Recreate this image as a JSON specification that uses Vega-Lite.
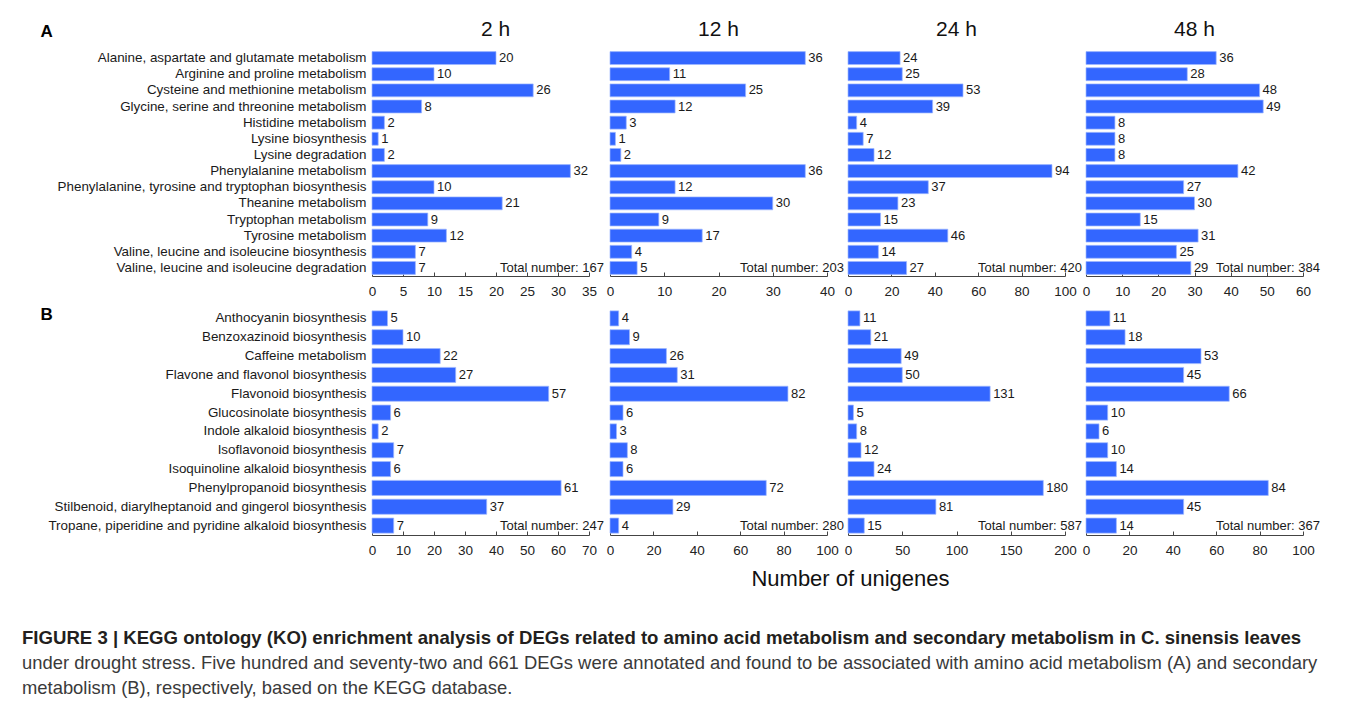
{
  "$schema": "https://vega.github.io/schema/vega-lite/v6.json",
  "padding": {"left": 22, "top": 19, "right": 10, "bottom": 5},
  "background": "white",
  "datasets": {
    "A": [
      {"pathway": "Alanine, aspartate and glutamate metabolism", "h2": 20, "h12": 36, "h24": 24, "h48": 36},
      {"pathway": "Arginine and proline metabolism", "h2": 10, "h12": 11, "h24": 25, "h48": 28},
      {"pathway": "Cysteine and methionine metabolism", "h2": 26, "h12": 25, "h24": 53, "h48": 48},
      {"pathway": "Glycine, serine and threonine metabolism", "h2": 8, "h12": 12, "h24": 39, "h48": 49},
      {"pathway": "Histidine metabolism", "h2": 2, "h12": 3, "h24": 4, "h48": 8},
      {"pathway": "Lysine biosynthesis", "h2": 1, "h12": 1, "h24": 7, "h48": 8},
      {"pathway": "Lysine degradation", "h2": 2, "h12": 2, "h24": 12, "h48": 8},
      {"pathway": "Phenylalanine metabolism", "h2": 32, "h12": 36, "h24": 94, "h48": 42},
      {"pathway": "Phenylalanine, tyrosine and tryptophan biosynthesis", "h2": 10, "h12": 12, "h24": 37, "h48": 27},
      {"pathway": "Theanine metabolism", "h2": 21, "h12": 30, "h24": 23, "h48": 30},
      {"pathway": "Tryptophan metabolism", "h2": 9, "h12": 9, "h24": 15, "h48": 15},
      {"pathway": "Tyrosine metabolism", "h2": 12, "h12": 17, "h24": 46, "h48": 31},
      {"pathway": "Valine, leucine and isoleucine biosynthesis", "h2": 7, "h12": 4, "h24": 14, "h48": 25},
      {"pathway": "Valine, leucine and isoleucine degradation", "h2": 7, "h12": 5, "h24": 27, "h48": 29}
    ],
    "B": [
      {"pathway": "Anthocyanin biosynthesis", "h2": 5, "h12": 4, "h24": 11, "h48": 11},
      {"pathway": "Benzoxazinoid biosynthesis", "h2": 10, "h12": 9, "h24": 21, "h48": 18},
      {"pathway": "Caffeine metabolism", "h2": 22, "h12": 26, "h24": 49, "h48": 53},
      {"pathway": "Flavone and flavonol biosynthesis", "h2": 27, "h12": 31, "h24": 50, "h48": 45},
      {"pathway": "Flavonoid biosynthesis", "h2": 57, "h12": 82, "h24": 131, "h48": 66},
      {"pathway": "Glucosinolate biosynthesis", "h2": 6, "h12": 6, "h24": 5, "h48": 10},
      {"pathway": "Indole alkaloid biosynthesis", "h2": 2, "h12": 3, "h24": 8, "h48": 6},
      {"pathway": "Isoflavonoid biosynthesis", "h2": 7, "h12": 8, "h24": 12, "h48": 10},
      {"pathway": "Isoquinoline alkaloid biosynthesis", "h2": 6, "h12": 6, "h24": 24, "h48": 14},
      {"pathway": "Phenylpropanoid biosynthesis", "h2": 61, "h12": 72, "h24": 180, "h48": 84},
      {"pathway": "Stilbenoid, diarylheptanoid and gingerol biosynthesis", "h2": 37, "h12": 29, "h24": 81, "h48": 45},
      {"pathway": "Tropane, piperidine and pyridine alkaloid biosynthesis", "h2": 7, "h12": 4, "h24": 15, "h48": 14}
    ],
    "totals": [
      {"panel": "A", "time": "h2", "total": 167},
      {"panel": "A", "time": "h12", "total": 203},
      {"panel": "A", "time": "h24", "total": 420},
      {"panel": "A", "time": "h48", "total": 384},
      {"panel": "B", "time": "h2", "total": 247},
      {"panel": "B", "time": "h12", "total": 280},
      {"panel": "B", "time": "h24", "total": 587},
      {"panel": "B", "time": "h48", "total": 367}
    ]
  },
  "title": {
    "text": "FIGURE 3 | KEGG ontology (KO) enrichment analysis of DEGs related to amino acid metabolism and secondary metabolism in C. sinensis leaves",
    "subtitle": ["under drought stress. Five hundred and seventy-two and 661 DEGs were annotated and found to be associated with amino acid metabolism (A) and secondary", "metabolism (B), respectively, based on the KEGG database."],
    "orient": "bottom",
    "anchor": "start",
    "frame": "bounds",
    "dx": -18,
    "offset": 40,
    "fontSize": 18.6,
    "fontWeight": "bold",
    "color": "#231f20",
    "subtitleFontSize": 18.4,
    "subtitleFontWeight": "normal",
    "subtitleColor": "#3a3a3a",
    "subtitleLineHeight": 25,
    "subtitlePadding": 6
  },
  "spacing": 7,
  "vconcat": [
    {
      "bounds": "flush",
      "spacing": 21,
      "resolve": {"scale": {"x": "independent", "y": "independent"}},
      "hconcat": [
        {
          "width": 217, "height": 226,
          "title": {"text": "2 h", "dx": 15, "dy": 28},
          "data": {"name": "A"},
          "encoding": {
            "y": {"field": "pathway", "type": "nominal", "sort": null, "scale": {"paddingInner": 0.2, "paddingOuter": 0.1},
              "axis": {"title": "A", "titleX": -332, "titleY": -19, "titleAngle": 0, "titleAlign": "left", "titleBaseline": "middle", "titleFontSize": 17, "titleFontWeight": "bold", "titleColor": "#000000"}},
            "x": {"field": "h2", "type": "quantitative", "scale": {"domain": [0, 35], "nice": false}, "axis": {"values": [0, 5, 10, 15, 20, 25, 30, 35], "labelOverlap": false}}
          },
          "layer": [
            {"mark": "bar"},
            {"mark": {"type": "text", "align": "left", "dx": 3, "baseline": "middle"}, "encoding": {"text": {"field": "h2"}}},
            {"data": {"name": "totals"}, "transform": [{"filter": "datum.panel === 'A' && datum.time === 'h2'"}, {"calculate": "'Total number: ' + datum.total", "as": "lbl"}],
             "mark": {"type": "text", "align": "right", "baseline": "middle", "dx": 15, "dy": -8}, "encoding": {"x": {"value": "width"}, "y": {"value": "height"}, "text": {"field": "lbl"}}}
          ]
        },
        {
          "width": 217, "height": 226,
          "title": {"text": "12 h"},
          "data": {"name": "A"},
          "encoding": {
            "y": {"field": "pathway", "type": "nominal", "sort": null, "scale": {"paddingInner": 0.2, "paddingOuter": 0.1}, "axis": null},
            "x": {"field": "h12", "type": "quantitative", "scale": {"domain": [0, 40], "nice": false}, "axis": {"values": [0, 10, 20, 30, 40], "labelOverlap": false}}
          },
          "layer": [
            {"mark": "bar"},
            {"mark": {"type": "text", "align": "left", "dx": 3, "baseline": "middle"}, "encoding": {"text": {"field": "h12"}}},
            {"data": {"name": "totals"}, "transform": [{"filter": "datum.panel === 'A' && datum.time === 'h12'"}, {"calculate": "'Total number: ' + datum.total", "as": "lbl"}],
             "mark": {"type": "text", "align": "right", "baseline": "middle", "dx": 17, "dy": -8}, "encoding": {"x": {"value": "width"}, "y": {"value": "height"}, "text": {"field": "lbl"}}}
          ]
        },
        {
          "width": 217, "height": 226,
          "title": {"text": "24 h"},
          "data": {"name": "A"},
          "encoding": {
            "y": {"field": "pathway", "type": "nominal", "sort": null, "scale": {"paddingInner": 0.2, "paddingOuter": 0.1}, "axis": null},
            "x": {"field": "h24", "type": "quantitative", "scale": {"domain": [0, 100], "nice": false}, "axis": {"values": [0, 20, 40, 60, 80, 100], "labelOverlap": false}}
          },
          "layer": [
            {"mark": "bar"},
            {"mark": {"type": "text", "align": "left", "dx": 3, "baseline": "middle"}, "encoding": {"text": {"field": "h24"}}},
            {"data": {"name": "totals"}, "transform": [{"filter": "datum.panel === 'A' && datum.time === 'h24'"}, {"calculate": "'Total number: ' + datum.total", "as": "lbl"}],
             "mark": {"type": "text", "align": "right", "baseline": "middle", "dx": 17, "dy": -8}, "encoding": {"x": {"value": "width"}, "y": {"value": "height"}, "text": {"field": "lbl"}}}
          ]
        },
        {
          "width": 217, "height": 226,
          "title": {"text": "48 h"},
          "data": {"name": "A"},
          "encoding": {
            "y": {"field": "pathway", "type": "nominal", "sort": null, "scale": {"paddingInner": 0.2, "paddingOuter": 0.1}, "axis": null},
            "x": {"field": "h48", "type": "quantitative", "scale": {"domain": [0, 60], "nice": false}, "axis": {"values": [0, 10, 20, 30, 40, 50, 60], "labelOverlap": false}}
          },
          "layer": [
            {"mark": "bar"},
            {"mark": {"type": "text", "align": "left", "dx": 3, "baseline": "middle"}, "encoding": {"text": {"field": "h48"}}},
            {"data": {"name": "totals"}, "transform": [{"filter": "datum.panel === 'A' && datum.time === 'h48'"}, {"calculate": "'Total number: ' + datum.total", "as": "lbl"}],
             "mark": {"type": "text", "align": "right", "baseline": "middle", "dx": 17, "dy": -8}, "encoding": {"x": {"value": "width"}, "y": {"value": "height"}, "text": {"field": "lbl"}}}
          ]
        }
      ]
    },
    {
      "bounds": "flush",
      "spacing": 21,
      "resolve": {"scale": {"x": "independent", "y": "independent"}},
      "hconcat": [
        {
          "width": 217, "height": 226,
          "data": {"name": "B"},
          "encoding": {
            "y": {"field": "pathway", "type": "nominal", "sort": null, "scale": {"paddingInner": 0.2, "paddingOuter": 0.1},
              "axis": {"title": "B", "titleX": -332, "titleY": 5, "titleAngle": 0, "titleAlign": "left", "titleBaseline": "middle", "titleFontSize": 17, "titleFontWeight": "bold", "titleColor": "#000000"}},
            "x": {"field": "h2", "type": "quantitative", "scale": {"domain": [0, 70], "nice": false}, "axis": {"values": [0, 10, 20, 30, 40, 50, 60, 70], "labelOverlap": false}}
          },
          "layer": [
            {"mark": "bar"},
            {"mark": {"type": "text", "align": "left", "dx": 3, "baseline": "middle"}, "encoding": {"text": {"field": "h2"}}},
            {"data": {"name": "totals"}, "transform": [{"filter": "datum.panel === 'B' && datum.time === 'h2'"}, {"calculate": "'Total number: ' + datum.total", "as": "lbl"}],
             "mark": {"type": "text", "align": "right", "baseline": "middle", "dx": 15, "dy": -9}, "encoding": {"x": {"value": "width"}, "y": {"value": "height"}, "text": {"field": "lbl"}}}
          ]
        },
        {
          "width": 217, "height": 226,
          "data": {"name": "B"},
          "encoding": {
            "y": {"field": "pathway", "type": "nominal", "sort": null, "scale": {"paddingInner": 0.2, "paddingOuter": 0.1}, "axis": null},
            "x": {"field": "h12", "type": "quantitative", "scale": {"domain": [0, 100], "nice": false}, "axis": {"values": [0, 20, 40, 60, 80, 100], "labelOverlap": false}}
          },
          "layer": [
            {"mark": "bar"},
            {"mark": {"type": "text", "align": "left", "dx": 3, "baseline": "middle"}, "encoding": {"text": {"field": "h12"}}},
            {"data": {"name": "totals"}, "transform": [{"filter": "datum.panel === 'B' && datum.time === 'h12'"}, {"calculate": "'Total number: ' + datum.total", "as": "lbl"}],
             "mark": {"type": "text", "align": "right", "baseline": "middle", "dx": 17, "dy": -9}, "encoding": {"x": {"value": "width"}, "y": {"value": "height"}, "text": {"field": "lbl"}}}
          ]
        },
        {
          "width": 217, "height": 226,
          "data": {"name": "B"},
          "encoding": {
            "y": {"field": "pathway", "type": "nominal", "sort": null, "scale": {"paddingInner": 0.2, "paddingOuter": 0.1}, "axis": null},
            "x": {"field": "h24", "type": "quantitative", "scale": {"domain": [0, 200], "nice": false},
              "axis": {"values": [0, 50, 100, 150, 200], "labelOverlap": false, "title": "Number of unigenes", "titleX": 2, "titleY": 43, "titleAlign": "center", "titleBaseline": "middle", "titleFontSize": 22, "titleFontWeight": "normal", "titleColor": "#111111"}}
          },
          "layer": [
            {"mark": "bar"},
            {"mark": {"type": "text", "align": "left", "dx": 3, "baseline": "middle"}, "encoding": {"text": {"field": "h24"}}},
            {"data": {"name": "totals"}, "transform": [{"filter": "datum.panel === 'B' && datum.time === 'h24'"}, {"calculate": "'Total number: ' + datum.total", "as": "lbl"}],
             "mark": {"type": "text", "align": "right", "baseline": "middle", "dx": 17, "dy": -9}, "encoding": {"x": {"value": "width"}, "y": {"value": "height"}, "text": {"field": "lbl"}}}
          ]
        },
        {
          "width": 217, "height": 226,
          "data": {"name": "B"},
          "encoding": {
            "y": {"field": "pathway", "type": "nominal", "sort": null, "scale": {"paddingInner": 0.2, "paddingOuter": 0.1}, "axis": null},
            "x": {"field": "h48", "type": "quantitative", "scale": {"domain": [0, 100], "nice": false}, "axis": {"values": [0, 20, 40, 60, 80, 100], "labelOverlap": false}}
          },
          "layer": [
            {"mark": "bar"},
            {"mark": {"type": "text", "align": "left", "dx": 3, "baseline": "middle"}, "encoding": {"text": {"field": "h48"}}},
            {"data": {"name": "totals"}, "transform": [{"filter": "datum.panel === 'B' && datum.time === 'h48'"}, {"calculate": "'Total number: ' + datum.total", "as": "lbl"}],
             "mark": {"type": "text", "align": "right", "baseline": "middle", "dx": 17, "dy": -9}, "encoding": {"x": {"value": "width"}, "y": {"value": "height"}, "text": {"field": "lbl"}}}
          ]
        }
      ]
    }
  ],
  "config": {
    "font": "Liberation Sans",
    "view": {"stroke": null},
    "title": {"fontSize": 21, "fontWeight": "normal", "offset": 10, "color": "#111111"},
    "bar": {"color": "#3366ff", "stroke": "#9fb7ff", "strokeWidth": 0.7},
    "text": {"fontSize": 13, "color": "#1a1a1a"},
    "axisX": {"grid": false, "title": null, "domainColor": "#444444", "tickColor": "#444444", "labelFontSize": 13.5, "labelColor": "#222222", "tickSize": -4, "labelPadding": 12.5, "labelFlush": false, "labelOverlap": false, "labelBound": false},
    "axisY": {"ticks": false, "domain": false, "labelFontSize": 13.4, "labelColor": "#1a1a1a", "labelPadding": 6, "labelLimit": 400, "title": null}
  }
}
